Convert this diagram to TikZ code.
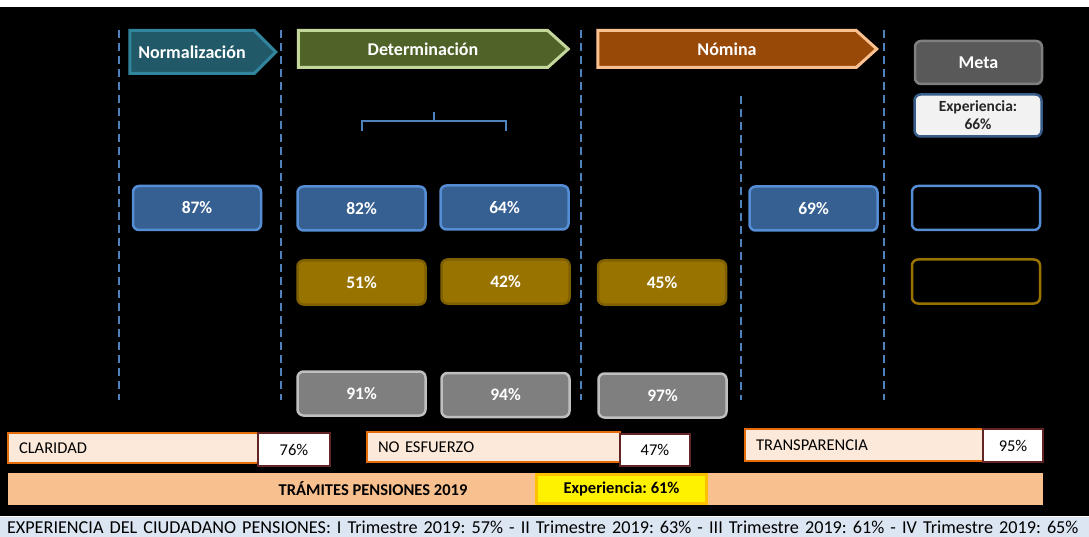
\documentclass[tikz,border=0pt]{standalone}
\usepackage{fontspec}
\setmainfont{Carlito}
\usepackage{xcolor}
\usepackage{tikz}
\usetikzlibrary{shapes.symbols}
\frenchspacing

\definecolor{tealfill}{HTML}{215968}
\definecolor{tealedge}{HTML}{31859C}
\definecolor{greenfill}{HTML}{4F6228}
\definecolor{greenedge}{HTML}{C3D69B}
\definecolor{brownfill}{HTML}{984807}
\definecolor{brownedge}{HTML}{FAC090}
\definecolor{metafill}{HTML}{595959}
\definecolor{metaedge}{HTML}{7F7F7F}
\definecolor{boxblue}{HTML}{376092}
\definecolor{edgeblue}{HTML}{558ED5}
\definecolor{boxgold}{HTML}{997300}
\definecolor{edgegold}{HTML}{7F6000}
\definecolor{boxgray}{HTML}{7F7F7F}
\definecolor{edgegray}{HTML}{BFBFBF}
\definecolor{peach}{HTML}{FDE9D9}
\definecolor{peachedge}{HTML}{E46C0A}
\definecolor{valedge}{HTML}{632523}
\definecolor{barorange}{HTML}{F9C08F}
\definecolor{goldedge}{HTML}{FFC000}
\definecolor{footblue}{HTML}{DCE6F2}
\definecolor{dashblue}{HTML}{4F81BD}
\definecolor{expedge}{HTML}{385D8A}

\begin{document}
\begin{tikzpicture}[x=1pt,y=-1pt,
  stage/.style={signal, signal to=east, line width=3pt, inner sep=0pt, text=white,
    font=\fontsize{18}{18}\selectfont\bfseries},
  pct/.style={rounded corners=6pt, line width=2.5pt, minimum width=128pt, minimum height=44pt,
    inner sep=0pt, text=white, font=\fontsize{17.5}{17.5}\selectfont\bfseries},
  bluebox/.style={pct, fill=boxblue, draw=edgeblue},
  goldbox/.style={pct, fill=boxgold, draw=edgegold},
  graybox/.style={pct, fill=boxgray, draw=edgegray},
  attr/.style={fill=peach, draw=peachedge, line width=1.2pt, inner xsep=11pt, inner ysep=0pt,
    align=left, minimum height=30pt, font=\fontsize{16.5}{16.5}\selectfont},
  val/.style={fill=white, draw=valedge, line width=1.5pt, inner sep=0pt,
    font=\fontsize{16.5}{16.5}\selectfont},
  sep/.style={dashblue, line width=1.5pt, dash pattern=on 8pt off 5pt}]
\useasboundingbox (0,0) rectangle (1089,537);
\fill[white] (0,0) rectangle (1089,7);
\fill[black] (0,7) rectangle (1089,516);

% columns
\draw[sep] (119,30)--(119,400);
\draw[sep] (281,30)--(281,400);
\draw[sep] (581,30)--(581,400);
\draw[sep] (741,96)--(741,400);
\draw[sep] (884,30)--(884,400);

% stages
\node[stage, fill=tealfill, draw=tealedge, signal pointer angle=90,
  minimum width=146pt, minimum height=43pt] (norm) at (192,52) {Normalización};
\node[stage, fill=greenfill, draw=greenedge, signal pointer angle=84,
  minimum width=270pt, minimum height=37pt] (det) at (423,49) {Determinación};
\node[stage, fill=brownfill, draw=brownedge, signal pointer angle=84,
  minimum width=279pt, minimum height=37pt] (nom) at (727,49) {Nómina};
\node[rounded corners=6pt, fill=metafill, draw=metaedge, line width=2.5pt,
  minimum width=127pt, minimum height=43pt, text=white,
  font=\fontsize{18}{18}\selectfont\bfseries] (meta) at (978.5,62.5) {Meta};
\node[rounded corners=6pt, fill=black!5, draw=expedge, line width=2.5pt,
  minimum width=127pt, minimum height=42pt, inner sep=0pt, align=center, text=black!85,
  font=\fontsize{15.5}{18}\selectfont\bfseries] (exp66) at (978,115.5) {Experiencia:\\66\%};

% brace
\draw[dashblue, line width=1.5pt] (362,131)--(362,121)--(506,121)--(506,131);
\draw[dashblue, line width=1.5pt] (434,121)--(434,112);

% results
\node[bluebox] (n1) at (197,208) {87\%};
\node[bluebox] (d1) at (361.5,208.5) {82\%};
\node[bluebox] (d2) at (504.5,207.5) {64\%};
\node[bluebox] (m1) at (813.5,208.5) {69\%};
\node[pct, draw=edgeblue] (e1) at (976,208) {};
\node[goldbox] (d3) at (361.5,282.5) {51\%};
\node[goldbox] (d4) at (505.5,281.5) {42\%};
\node[goldbox] (o1) at (662,282.5) {45\%};
\node[pct, draw=boxgold] (e2) at (976,281.5) {};
\node[graybox] (d5) at (361.5,393.5) {91\%};
\node[graybox] (d6) at (505.5,395) {94\%};
\node[graybox] (o2) at (662.5,395.5) {97\%};

% attributes
\node[attr, text width=228pt] (clar) at (133,448) {CLARIDAD};
\node[val, minimum width=72pt, minimum height=33pt] (clarv) at (294,449.5) {76\%};
\node[attr, text width=231pt] (esf) at (493.5,447) {NO ESFUERZO};
\node[val, minimum width=70pt, minimum height=32pt] (esfv) at (655,450) {47\%};
\node[attr, text width=216pt, minimum height=32pt] (trans) at (864,445) {TRANSPARENCIA};
\node[val, minimum width=60pt, minimum height=33pt] (transv) at (1013,445.5) {95\%};

% total
\node[fill=barorange, minimum width=1035pt, minimum height=32pt, inner sep=0pt] (bar) at (525.5,489) {};
\node[font=\fontsize{16.5}{16.5}\selectfont\bfseries] (tram) at (373,489) {TRÁMITES PENSIONES 2019};
\node[fill=yellow, draw=goldedge, line width=3pt, minimum width=170pt, minimum height=29pt,
  inner sep=0pt, font=\fontsize{16.5}{16.5}\selectfont\bfseries] (exp61) at (621.5,489) {Experiencia: 61\%};

% footer
\node[fill=footblue, minimum width=1089pt, minimum height=21pt, inner xsep=7pt, inner ysep=0pt,
  text width=1075pt, align=left, font=\fontsize{18.2}{18.2}\selectfont] (foot) at (544.5,527)
  {EXPERIENCIA DEL CIUDADANO PENSIONES: I Trimestre 2019: 57\% - II Trimestre 2019: 63\% - III Trimestre 2019: 61\% - IV Trimestre 2019: 65\%};
\end{tikzpicture}
\end{document}
